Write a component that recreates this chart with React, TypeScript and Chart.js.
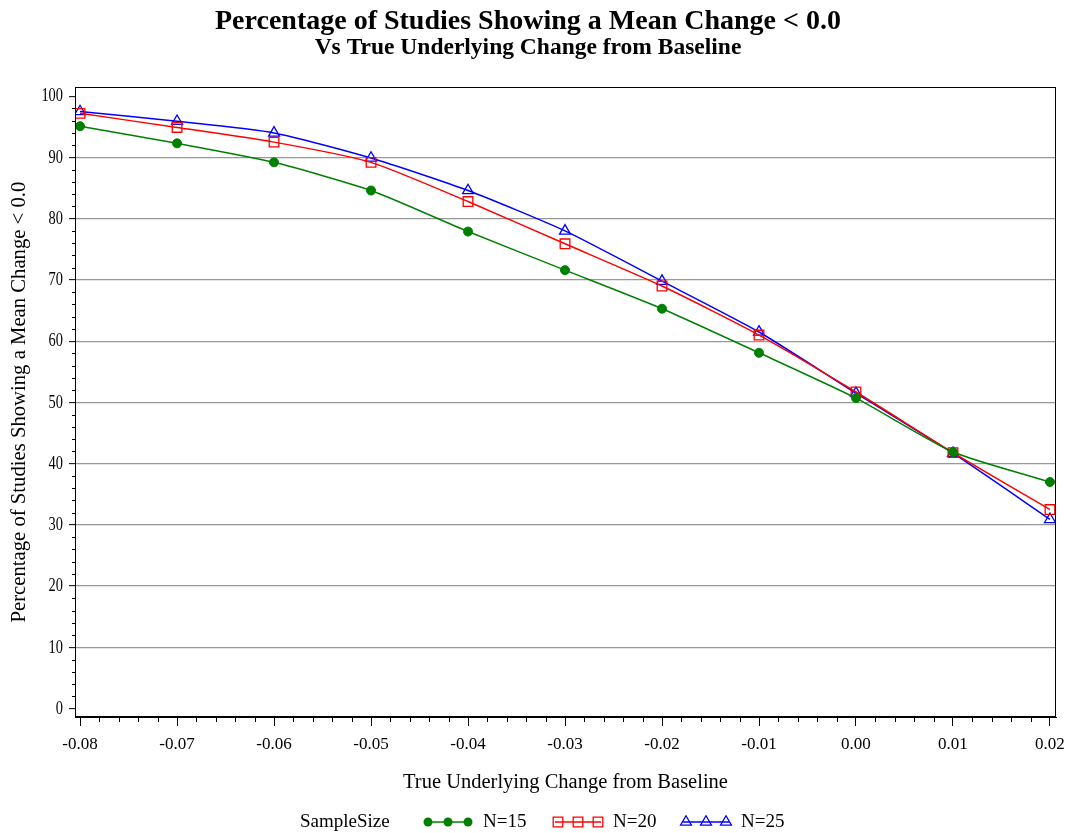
import { useEffect, useRef } from 'react';
import { Chart, registerables } from 'chart.js';

Chart.register(...registerables);

const xValues = [-0.08, -0.07, -0.06, -0.05, -0.04, -0.03, -0.02, -0.01, 0.0, 0.01, 0.02];
const n15 = [95.1, 92.3, 89.2, 84.6, 77.9, 71.6, 65.3, 58.1, 50.7, 41.9, 37.0];
const n20 = [97.2, 94.9, 92.5, 89.2, 82.8, 75.9, 69.0, 61.0, 51.7, 41.8, 32.5];
const n25 = [97.5, 95.9, 94.0, 89.9, 84.6, 78.0, 69.8, 61.5, 51.5, 41.7, 30.9];
const seriesLabels = ['N=15', 'N=20', 'N=25'];
const seriesColors = ['#008000', '#ff0000', '#0000ff'];
const xTickValues = [-0.08, -0.07, -0.06, -0.05, -0.04, -0.03, -0.02, -0.01, 0.0, 0.01, 0.02];
const yTickValues = [0, 10, 20, 30, 40, 50, 60, 70, 80, 90, 100];

const titleText = 'Percentage of Studies Showing a Mean Change < 0.0';
const subtitleText = 'Vs True Underlying Change from Baseline';
const xTitle = 'True Underlying Change from Baseline';
const yTitle = 'Percentage of Studies Showing a Mean Change < 0.0';
const legendTitle = 'SampleSize';

const FONT = "'Liberation Serif', 'Times New Roman', serif";

function drawMarker(ctx: CanvasRenderingContext2D, style: string, x: number, y: number, color: string) {
  ctx.save();
  ctx.strokeStyle = color;
  ctx.fillStyle = color;
  ctx.lineWidth = 1.3;
  ctx.beginPath();
  if (style === 'circle') {
    ctx.arc(x, y, 4.5, 0, Math.PI * 2);
    ctx.fill();
  } else if (style === 'rect') {
    ctx.rect(x - 4.8, y - 4.8, 9.6, 9.6);
    ctx.stroke();
  } else {
    const r = 6.3;
    ctx.moveTo(x, y - r);
    ctx.lineTo(x + r * Math.sin(Math.PI / 3), y + r * 0.5);
    ctx.lineTo(x - r * Math.sin(Math.PI / 3), y + r * 0.5);
    ctx.closePath();
    ctx.stroke();
  }
  ctx.restore();
}

const extrasPlugin = {
  id: 'extras',
  afterDraw(chart: any) {
    const { ctx, chartArea: a, scales } = chart;
    const x = scales.x;
    const y = scales.y;
    ctx.save();
    // frame
    ctx.strokeStyle = '#000';
    ctx.lineWidth = 1;
    ctx.strokeRect(Math.round(a.left) + 0.5, Math.round(a.top) + 0.5, Math.round(a.right - a.left) - 1, Math.round(a.bottom - a.top) - 1);
    // minor x ticks
    ctx.beginPath();
    for (let i = 0; i < xTickValues.length - 1; i++) {
      const step = (xTickValues[i + 1] - xTickValues[i]) / 5;
      for (let k = 1; k < 5; k++) {
        const px = Math.round(x.getPixelForValue(xTickValues[i] + step * k)) + 0.5;
        ctx.moveTo(px, a.bottom);
        ctx.lineTo(px, a.bottom + 5);
      }
    }
    // minor y ticks
    for (let i = 0; i < yTickValues.length - 1; i++) {
      const step = (yTickValues[i + 1] - yTickValues[i]) / 5;
      for (let k = 1; k < 5; k++) {
        const py = Math.round(y.getPixelForValue(yTickValues[i] + step * k)) + 0.5;
        ctx.moveTo(a.left, py);
        ctx.lineTo(a.left - 3, py);
      }
    }
    ctx.stroke();

    // y tick labels (narrow, as in the reference)
    ctx.fillStyle = '#000';
    ctx.font = `18px ${FONT}`;
    ctx.textAlign = 'right';
    ctx.textBaseline = 'middle';
    yTickValues.forEach((v) => {
      const py = y.getPixelForValue(v);
      ctx.save();
      ctx.translate(63, py + 0.5);
      ctx.scale(0.8, 1);
      ctx.fillText(String(v), 0, 0);
      ctx.restore();
    });

    // legend
    const ly = 822;
    ctx.font = `19px ${FONT}`;
    ctx.fillStyle = '#000';
    ctx.textBaseline = 'middle';
    ctx.textAlign = 'left';
    ctx.fillText(legendTitle, 300, ly);
    const starts = [425, 555, 683];
    const styles = ['circle', 'rect', 'triangle'];
    chart.data.datasets.forEach((ds: any, i: number) => {
      const sx = starts[i];
      ctx.strokeStyle = ds.borderColor;
      ctx.lineWidth = 1.5;
      ctx.beginPath();
      ctx.moveTo(sx, ly);
      ctx.lineTo(sx + 46, ly);
      ctx.stroke();
      [sx + 3, sx + 23, sx + 43].forEach((mx) => drawMarker(ctx, styles[i], mx, ly, ds.borderColor));
      ctx.fillStyle = '#000';
      ctx.fillText(ds.label, sx + 58, ly);
    });
    ctx.restore();
  },
};

export default function App() {
  const canvasRef = useRef<HTMLCanvasElement | null>(null);

  useEffect(() => {
    const canvas = canvasRef.current;
    if (!canvas) return;
    const mk = (vals: number[]) => xValues.map((xv, i) => ({ x: xv, y: vals[i] }));
    const chart = new Chart(canvas, {
      type: 'line',
      data: {
        datasets: [
          {
            label: seriesLabels[0],
            data: mk(n15),
            borderColor: seriesColors[0],
            backgroundColor: seriesColors[0],
            pointStyle: 'circle',
            pointRadius: 4.5,
            pointBorderWidth: 1,
            borderWidth: 1.5,
            tension: 0.2,
          },
          {
            label: seriesLabels[1],
            data: mk(n20),
            borderColor: seriesColors[1],
            backgroundColor: 'rgba(0,0,0,0)',
            pointStyle: 'rect',
            pointRadius: 6.8,
            pointBorderWidth: 1.3,
            borderWidth: 1.5,
            tension: 0.2,
          },
          {
            label: seriesLabels[2],
            data: mk(n25),
            borderColor: seriesColors[2],
            backgroundColor: 'rgba(0,0,0,0)',
            pointStyle: 'triangle',
            pointRadius: 6.3,
            pointBorderWidth: 1.3,
            borderWidth: 1.5,
            tension: 0.2,
          },
        ],
      },
      options: {
        responsive: false,
        animation: false,
        layout: { padding: { left: 0, right: 10, top: 0, bottom: 0 } },
        plugins: {
          legend: { display: false },
          tooltip: { enabled: false },
          title: {
            display: true,
            text: titleText,
            color: '#000',
            font: { family: FONT, size: 28, weight: 'bold', lineHeight: 1.0 },
            padding: { top: 7.5, bottom: 0 },
          },
          subtitle: {
            display: true,
            text: subtitleText,
            color: '#000',
            font: { family: FONT, size: 23.5, weight: 'bold', lineHeight: 1.0 },
            padding: { top: 0.5, bottom: 27.7 },
          },
        },
        scales: {
          x: {
            type: 'linear',
            min: -0.08052,
            max: 0.02062,
            afterBuildTicks: (scale: any) => {
              scale.ticks = xTickValues.map((v) => ({ value: v }));
            },
            afterFit: (scale: any) => {
              scale.height = 116;
              scale.paddingLeft = 0;
              scale.paddingRight = 0;
            },
            ticks: {
              color: '#000',
              font: { family: FONT, size: 17 },
              padding: 8,
              maxRotation: 0,
              autoSkip: false,
              callback: (v: any) => (Math.abs(Number(v)) < 1e-9 ? '0.00' : Number(v).toFixed(2)),
            },
            grid: {
              display: true,
              drawOnChartArea: false,
              drawTicks: true,
              tickLength: 9,
              tickColor: '#000',
              tickWidth: 1,
            },
            border: { display: true, color: '#000' },
            title: {
              display: true,
              text: xTitle,
              color: '#000',
              font: { family: FONT, size: 20.5, lineHeight: 1.2 },
              padding: { top: 0, bottom: 37.7 },
            },
          },
          y: {
            type: 'linear',
            min: -1.37,
            max: 101.47,
            afterBuildTicks: (scale: any) => {
              scale.ticks = yTickValues.map((v) => ({ value: v }));
            },
            afterFit: (scale: any) => {
              scale.width = 75;
            },
            ticks: {
              color: 'rgba(0,0,0,0)',
              font: { family: FONT, size: 17 },
              padding: 8,
              autoSkip: false,
              callback: (v: any) => String(v),
            },
            grid: {
              display: true,
              drawOnChartArea: true,
              color: (c: any) => (c.tick && (c.tick.value === 0 || c.tick.value === 100) ? 'rgba(0,0,0,0)' : '#989898'),
              lineWidth: 1.3,
              tickLength: 6,
              tickColor: '#000',
              tickWidth: 1,
            },
            border: { display: true, color: '#000' },
            title: {
              display: true,
              text: yTitle,
              color: '#000',
              font: { family: FONT, size: 20.7, lineHeight: 1.2 },
              padding: { top: 7.6, bottom: 0 },
            },
          },
        },
      },
      plugins: [extrasPlugin],
    } as any);
    return () => chart.destroy();
  }, []);

  return (
    <div style={{ position: 'fixed', left: 0, top: 0, width: 1066, height: 833, background: '#fff' }}>
      <canvas ref={canvasRef} width={1066} height={833} style={{ display: 'block', width: 1066, height: 833 }} />
    </div>
  );
}
